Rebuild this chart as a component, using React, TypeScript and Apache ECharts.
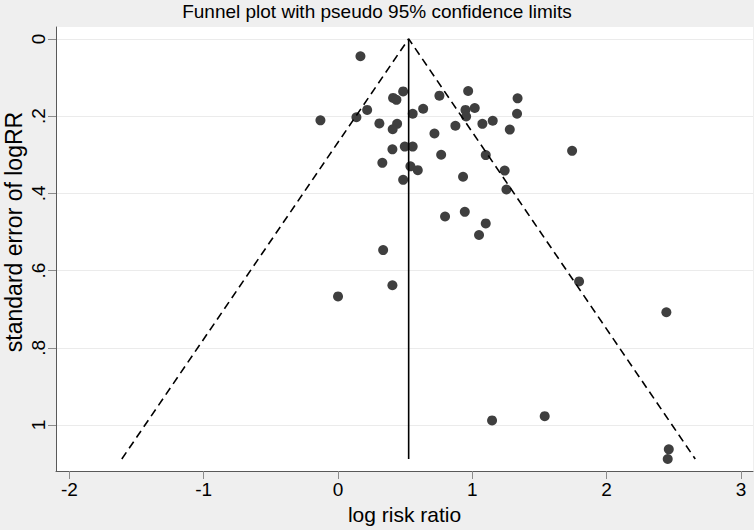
import React, { useEffect, useRef } from "react";
import * as echarts from "echarts";

// Study estimates
const logRR = [
  0.167, 0.485, 0.41, 0.435, 0.755, 0.969, 0.217, 0.137, -0.131, 0.308,
  0.44, 0.407, 0.556, 0.634, 0.949, 1.018, 0.954, 0.874, 1.075, 1.152,
  0.718, 0.405, 0.497, 0.556, 0.768, 1.1, 1.337, 1.333, 1.279, 0.33,
  0.539, 0.594, 0.485, 0.931, 1.241, 1.254, 0.797, 0.944, 1.1, 1.05,
  0.336, 0.405, 0.0, 1.147, 1.539, 1.795, 1.743, 2.463, 2.455, 2.445,
];
const seLogRR = [
  0.045, 0.136, 0.153, 0.158, 0.147, 0.135, 0.184, 0.203, 0.211, 0.219,
  0.22, 0.234, 0.194, 0.181, 0.184, 0.179, 0.201, 0.225, 0.22, 0.212,
  0.245, 0.286, 0.279, 0.279, 0.3, 0.301, 0.154, 0.194, 0.235, 0.321,
  0.33, 0.34, 0.365, 0.357, 0.341, 0.39, 0.46, 0.448, 0.478, 0.508,
  0.547, 0.638, 0.667, 0.988, 0.977, 0.628, 0.29, 1.063, 1.088, 0.708,
];

// Pseudo 95% confidence limits and pooled estimate line
const funnelX = [-1.61, 0.526, 2.66];
const funnelSE = [1.088, 0, 1.088];
const pooledX = [0.526, 0.526];
const pooledSE = [0, 1.088];

// Axes
const xTicks = [-2, -1, 0, 1, 2, 3];
const yTicks = [0, 0.2, 0.4, 0.6, 0.8, 1];
const yTickLabels = ["0", ".2", ".4", ".6", ".8", "1"];

const titleText = "Funnel plot with pseudo 95% confidence limits";
const xName = "log risk ratio";
const yName = "standard error of logRR";

const FONT = "'Liberation Sans', Arial, sans-serif";

export default function App() {
  const ref = useRef<HTMLDivElement>(null);

  useEffect(() => {
    if (!ref.current) return;
    const chart = echarts.init(ref.current, undefined, { renderer: "svg" });
    const points = logRR.map((x, i) => [x, seLogRR[i]]);
    const funnel = funnelX.map((x, i) => [x, funnelSE[i]]);
    const pooled = pooledX.map((x, i) => [x, pooledSE[i]]);
    const yLabelMap: Record<string, string> = {};
    yTicks.forEach((v, i) => (yLabelMap[v.toFixed(1)] = yTickLabels[i]));

    chart.setOption({
      animation: false,
      backgroundColor: "#efefef",
      textStyle: { fontFamily: FONT },
      title: {
        text: titleText,
        left: "center",
        top: 0,
        padding: [2, 0, 0, 0],
        textStyle: { fontSize: 19, fontWeight: "normal", color: "#000", fontFamily: FONT },
      },
      graphic: [
        {
          type: "text",
          x: 14,
          y: 232,
          rotation: Math.PI / 2,
          style: {
            text: yName,
            fontSize: 23,
            fontFamily: FONT,
            fill: "#000",
            textAlign: "center",
            textVerticalAlign: "middle",
          },
        },
      ],
      grid: {
        left: 56,
        right: 1,
        top: 27,
        bottom: 53,
        show: true,
        backgroundColor: "#ffffff",
        borderWidth: 0,
      },
      xAxis: {
        type: "value",
        min: -2.1,
        max: 3.09,
        name: xName,
        nameLocation: "middle",
        nameGap: 33,
        nameTextStyle: { fontSize: 21, color: "#000", fontFamily: FONT },
        axisLine: { show: true, onZero: false, lineStyle: { color: "#595959", width: 1 } },
        axisTick: { show: true, length: 8, customValues: xTicks, lineStyle: { color: "#8c8c8c" } },
        axisLabel: {
          customValues: xTicks,
          fontSize: 19,
          color: "#000",
          margin: 9,
          fontFamily: FONT,
        },
        splitLine: { show: false },
      },
      yAxis: {
        type: "value",
        inverse: true,
        min: -0.0307,
        max: 1.119,
        axisLine: { show: true, onZero: false, lineStyle: { color: "#595959", width: 1 } },
        axisTick: { show: true, length: 8, customValues: yTicks, lineStyle: { color: "#8c8c8c" } },
        axisLabel: {
          customValues: yTicks,
          rotate: 90,
          fontSize: 19,
          color: "#000",
          margin: 8,
          fontFamily: FONT,
          formatter: (v: number) => yLabelMap[v.toFixed(1)] ?? String(v),
        },
        splitLine: { show: true, lineStyle: { color: "#ebebeb", width: 1 } },
      },
      series: [
        {
          type: "scatter",
          data: points,
          symbol: "circle",
          symbolSize: 10,
          itemStyle: { color: "#3f3f3f", opacity: 1 },
          z: 2,
        },
        {
          type: "line",
          data: funnel,
          symbol: "none",
          lineStyle: { color: "#000", width: 1.6, type: [8, 5] },
          z: 3,
        },
        {
          type: "line",
          data: pooled,
          symbol: "none",
          lineStyle: { color: "#000", width: 1.6 },
          z: 3,
        },
      ],
    });
    return () => chart.dispose();
  }, []);

  return (
    <div
      ref={ref}
      style={{ position: "fixed", left: 0, top: 0, width: 754, height: 530 }}
    />
  );
}
